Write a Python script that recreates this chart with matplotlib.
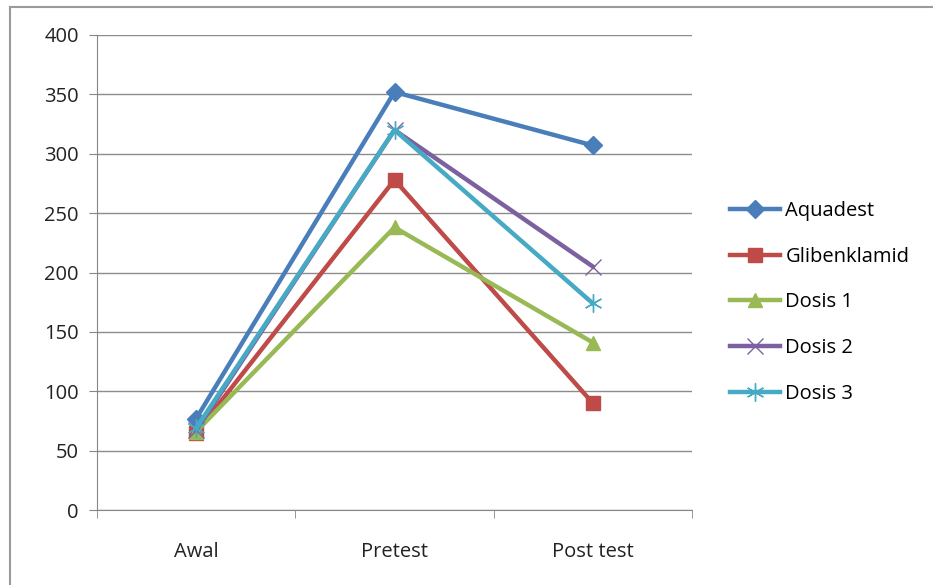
import matplotlib.pyplot as plt
from matplotlib.lines import Line2D

categories = ['Awal', 'Pretest', 'Post test']
aquadest = [77, 352, 307]
glibenklamid = [65, 278, 90]
dosis1 = [66, 238, 141]
dosis2 = [67, 320, 205]
dosis3 = [69, 320, 174]

series = [
    ('Aquadest', aquadest, '#4A7EBB', 'D', 9),
    ('Glibenklamid', glibenklamid, '#BE4B48', 's', 10),
    ('Dosis 1', dosis1, '#98B954', '^', 10),
    ('Dosis 2', dosis2, '#7D60A0', 'x', 11),
    ('Dosis 3', dosis3, '#46AAC5', (6, 2, 0), 13),
]

plt.rcParams['font.family'] = ['Open Sans', 'DejaVu Sans']

fig = plt.figure(figsize=(9.33, 5.85), dpi=100)
ax = fig.add_axes([97 / 933, 1 - 510 / 585, (692 - 97) / 933, (510 - 35) / 585])

x = range(len(categories))
for name, vals, col, mk, ms in series:
    if mk in ('x', (6, 2, 0)):
        ax.plot(x, vals, color=col, lw=3.2, marker=mk, markersize=ms,
                markeredgewidth=1.0, markeredgecolor=col, label=name, zorder=3)
    else:
        ax.plot(x, vals, color=col, lw=3.2, marker=mk, markersize=ms,
                markeredgecolor=col, markerfacecolor=col, label=name, zorder=3)

ax.set_xlim(-0.5, 2.5)
ax.set_ylim(0, 400)
ax.set_yticks(range(0, 401, 50))
ax.set_xticks(list(x))
ax.set_xticklabels(categories)
ax.set_xticks([-0.5, 0.5, 1.5, 2.5], minor=True)
ax.tick_params(axis='x', which='major', length=0, pad=23, labelsize=14.5, colors='#222222')
ax.tick_params(axis='x', which='minor', length=6, color='#868686', direction='out')
ax.tick_params(axis='y', length=6, color='#868686', pad=7, labelsize=14.5, colors='#222222')
ax.grid(axis='y', color='#8c8c8c', lw=1)
ax.set_axisbelow(True)
for s in ['top', 'right']:
    ax.spines[s].set_visible(False)
for s in ['left', 'bottom']:
    ax.spines[s].set_color('#868686')

fig.legend(loc='center left', bbox_to_anchor=(0.763, 0.483), frameon=False,
           fontsize=14.5, handlelength=2.5, labelspacing=1.27, handletextpad=0.25)

# outer chart frame: only the top and left edges show
fig.lines.append(Line2D([10 / 933, 10 / 933], [0, 1 - 7 / 585], transform=fig.transFigure,
                        color='#9a9a9a', lw=1.5))
fig.lines.append(Line2D([10 / 933, 1], [1 - 7 / 585, 1 - 7 / 585], transform=fig.transFigure,
                        color='#9a9a9a', lw=1.5))

fig.savefig('out.png', dpi=100)
